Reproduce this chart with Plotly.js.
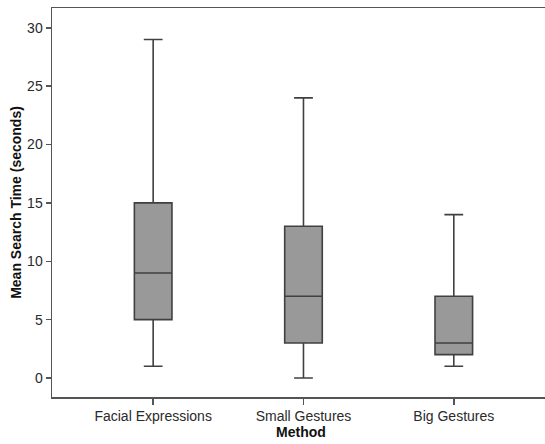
<!DOCTYPE html>
<html>
<head>
<meta charset="utf-8">
<script src="https://cdn.plot.ly/plotly-3.0.1.min.js"></script>
<style>html,body{margin:0;padding:0;background:#fff;overflow:hidden}#wrap{width:545px;height:444px;overflow:hidden}#chart{width:550px;height:444px}</style>
</head>
<body>
<div id="wrap"><div id="chart"></div></div>
<script>
var categories = ["Facial Expressions", "Small Gestures", "Big Gestures"];
var lowerWhisker = [1, 0, 1];
var q1Values = [5, 3, 2];
var medianValues = [9, 7, 3];
var q3Values = [15, 13, 7];
var upperWhisker = [29, 24, 14];
var yTickValues = [0, 5, 10, 15, 20, 25, 30];

var trace = {
  type: "box",
  x: categories,
  q1: q1Values,
  median: medianValues,
  q3: q3Values,
  lowerfence: lowerWhisker,
  upperfence: upperWhisker,
  fillcolor: "#999999",
  line: {color: "#404040", width: 1.6},
  width: 0.25,
  whiskerwidth: 0.5,
  boxpoints: false,
  showlegend: false,
  hoverinfo: "skip"
};

var layout = {
  width: 550, height: 444,
  margin: {l: 52, r: 0, t: 8, b: 47},
  paper_bgcolor: "#ffffff",
  plot_bgcolor: "#ffffff",
  font: {family: "Arial, 'Liberation Sans', sans-serif", size: 14, color: "#222"},
  xaxis: {
    type: "category",
    range: [-0.673, 2.64],
    showline: true, mirror: true, linecolor: "#555", linewidth: 1.5,
    ticks: "outside", ticklen: 6, tickcolor: "#555", tickwidth: 1.5,
    showgrid: false, zeroline: false,
    tickfont: {size: 14, color: "#2a2a2a"},
    title: {text: "<b>Method</b>", font: {size: 14, color: "#111"}, standoff: 1}
  },
  yaxis: {
    range: [-1.63, 31.7],
    tickvals: yTickValues,
    showline: true, linecolor: "#555", linewidth: 1.5,
    ticks: "outside", ticklen: 5, tickcolor: "#555", tickwidth: 1.5,
    showgrid: false, zeroline: false,
    tickfont: {size: 14, color: "#2a2a2a"},
    title: {text: "<b>Mean Search Time (seconds)</b>", font: {size: 14, color: "#111"}, standoff: 2}
  }
};

Plotly.newPlot("chart", [trace], layout, {staticPlot: true, displayModeBar: false});
</script>
</body>
</html>
